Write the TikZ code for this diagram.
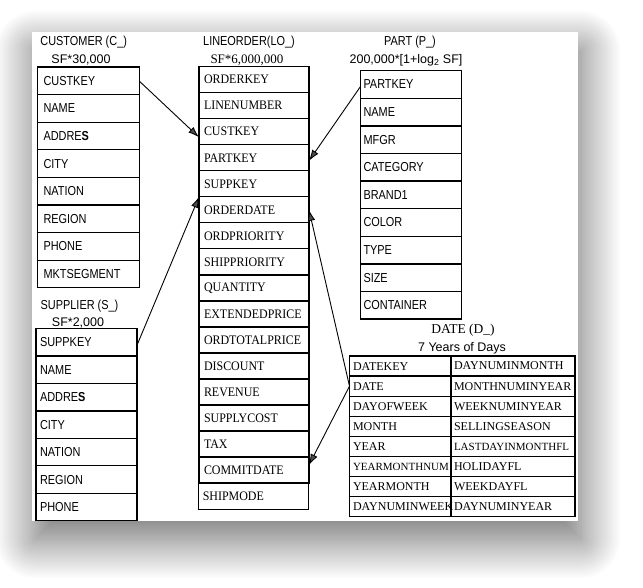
\documentclass[tikz,border=0pt]{standalone}
\usepackage{fontspec}
\setmainfont{Liberation Serif}
\newfontfamily\csans[FakeStretch=0.84]{Liberation Sans}
\newfontfamily\psans{Liberation Sans}
\newfontfamily\cserif[FakeStretch=0.92]{Liberation Serif}
\usetikzlibrary{arrows.meta,shadows.blur}
\begin{document}
\begin{tikzpicture}[x=1pt,y=-1pt,
  rowbase/.style={draw, line width=1.3pt, anchor=north west, inner ysep=0pt, outer sep=0pt, align=left},
  sansrow/.style={rowbase, font=\csans\fontsize{13}{13}\selectfont},
  serifrow/.style={rowbase, font=\cserif\fontsize{13}{13}\selectfont},
  daterow/.style={rowbase, font=\fontsize{12}{12}\selectfont, minimum height=20.1pt},
  ttl/.style={inner sep=0pt, font=\csans\fontsize{13}{13}\selectfont},
  sfttl/.style={inner sep=0pt, font=\psans\fontsize{12.5}{12.5}\selectfont},
  fk/.style={line width=0.9pt, -{Latex[length=11pt,width=7.5pt]}}
]
\useasboundingbox (0,0) rectangle (643,588);
% page with shadow
\fill[white, blur shadow={shadow xshift=3pt, shadow yshift=-18pt, shadow blur radius=40pt, shadow blur steps=40, shadow opacity=60}] (32,32) rectangle (578,521);

% titles
\node[ttl] (tC) at (83.7,42.3) {CUSTOMER (C\_)};
\node[sfttl] (tCsf) at (81,60) {SF*30,000};
\node[ttl] (tL) at (249,42.3) {LINEORDER(LO\_)};
\node[inner sep=0pt, font=\fontsize{13}{13}\selectfont] (tLsf) at (247,60) {SF*6,000,000};
\node[ttl] (tP) at (410,42.3) {PART (P\_)};
\node[sfttl] (tPsf) at (406,60) {200,000*[1+log\textsubscript{2} SF]};
\node[ttl] (tS) at (79.5,306) {SUPPLIER (S\_)};
\node[sfttl] (tSsf) at (78,322.5) {SF*2,000};
\node[inner sep=0pt, font=\fontsize{13.5}{13.5}\selectfont] (tD) at (463,330) {DATE (D\_)};
\node[sfttl] (tDsf) at (462,348) {7 Years of Days};

% CUSTOMER
\foreach \t [count=\i] in {CUSTKEY,NAME,{ADDRE\textbf{S}},CITY,NATION,REGION,PHONE,MKTSEGMENT}
  \node[sansrow, text width=90pt, inner xsep=6pt, minimum height=27.6pt] (c\i) at (37.5,{67+27.6*(\i-1)}) {\t};

% SUPPLIER
\foreach \t [count=\i] in {SUPPKEY,NAME,{ADDRE\textbf{S}},CITY,NATION,REGION,PHONE}
  \node[sansrow, text width=93pt, inner xsep=4pt, minimum height=27.46pt] (s\i) at (36,{328.5+27.46*(\i-1)}) {\t};

% PART
\foreach \t [count=\i] in {PARTKEY,NAME,MFGR,CATEGORY,BRAND1,COLOR,TYPE,SIZE,CONTAINER}
  \node[sansrow, text width=95pt, inner xsep=3pt, minimum height=27.6pt] (p\i) at (360.5,{70.7+27.6*(\i-1)}) {\t};

% LINEORDER
\foreach \t [count=\i] in {ORDERKEY,LINENUMBER,CUSTKEY,PARTKEY,SUPPKEY,ORDERDATE,ORDPRIORITY,SHIPPRIORITY,QUANTITY,EXTENDEDPRICE,ORDTOTALPRICE,DISCOUNT,REVENUE,SUPPLYCOST,TAX,COMMITDATE}
  \node[serifrow, text width=100pt, inner xsep=5pt, minimum height=26.02pt] (lo\i) at (199,{66.7+26.02*(\i-1)}) {\t};
\node[serifrow, text width=102pt, inner xsep=4pt, minimum height=26.3pt] (lo17) at (198.8,483) {SHIPMODE};

% DATE
\foreach \a/\b [count=\i] in {DATEKEY/DAYNUMINMONTH,DATE/MONTHNUMINYEAR,DAYOFWEEK/WEEKNUMINYEAR,MONTH/SELLINGSEASON,YEAR/{{\fontsize{11}{11}\selectfont LASTDAYINMONTHFL}},{{\fontsize{11}{11}\selectfont YEARMONTHNUM}}/HOLIDAYFL,YEARMONTH/WEEKDAYFL,DAYNUMINWEEK/DAYNUMINYEAR}{
  \node[daterow, text width=94.5pt, inner xsep=3.5pt] (d\i) at (349.5,{356+20.1*(\i-1)}) {\a};
  \node[daterow, text width=118pt, inner xsep=3pt] (e\i) at (451,{356+20.1*(\i-1)}) {\b};
}

% foreign keys
\draw[fk] ([yshift=-0.5pt]c1.east) -- ([yshift=-5.5pt]lo3.west);
\draw[fk] ([yshift=-2pt]p1.west) -- ([yshift=-3pt]lo4.east);
\draw[fk] ([yshift=-3pt]s1.east) -- (lo5.south west);
\draw[fk] (d2.west) -- (lo6.east);
\draw[fk] (d2.west) -- ([yshift=5pt]lo16.east);
\end{tikzpicture}
\end{document}
